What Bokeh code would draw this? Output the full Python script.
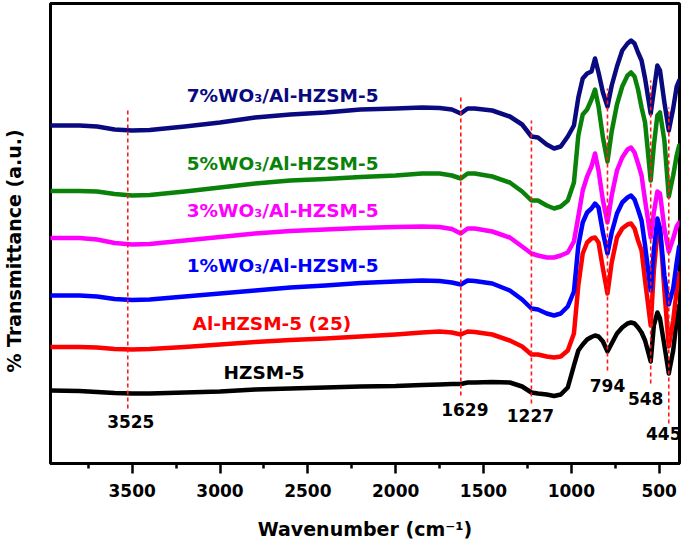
import math
from bokeh.plotting import figure
from bokeh.layouts import row
from bokeh.models import Range1d, FixedTicker, ColumnDataSource
from bokeh.core.properties import value
from bokeh.embed import file_html
from bokeh.resources import INLINE

# Wavenumber grid (cm^-1)
wn = [3965, 3800, 3700, 3600, 3500, 3400, 3200, 3000, 2800, 2600, 2400, 2200, 2000,
      1850, 1750, 1680, 1629, 1590, 1550, 1450, 1350, 1280, 1227, 1190, 1140, 1098,
      1060, 1020, 985, 960, 935, 910, 885, 865, 845, 820, 794, 770, 740, 710, 680,
      660, 640, 620, 600, 580, 548, 530, 510, 495, 470, 445, 420, 400, 386]

# Transmittance (a.u., offset) for each sample
t_7wo3 = [338, 338, 337, 334, 333, 333.5, 337, 341, 346, 349, 351, 354, 355, 356, 355.5,
          354, 350, 355, 355, 353, 347, 339, 327, 326, 319, 315, 317, 327, 338, 366,
          385, 390, 392, 405, 391, 371, 357, 378, 397, 413, 420, 423, 420, 411, 403,
          385, 350, 373, 398, 393, 361, 333, 355, 377, 383]
t_5wo3 = [272.5, 272.5, 272, 269.5, 268, 268.5, 272, 276, 280, 283, 284.5, 286.5, 288,
          290, 290, 288, 285, 290, 290, 287, 281, 272, 263, 263, 258, 255, 257, 263,
          281, 328, 349, 354, 364, 374, 357, 326, 302, 332, 359, 377, 388, 391, 387,
          374, 356, 341, 283, 318, 348, 351, 323, 267, 288, 308, 318]
t_3wo3 = [225.5, 225.5, 224, 220.5, 219, 219.5, 223, 226.5, 230, 232.5, 234, 235.5,
          236.5, 237, 236.5, 234.5, 230, 235, 235, 232, 226, 217, 210, 208, 206, 206,
          208, 211, 222, 247, 273, 287, 297, 310, 293, 263, 241, 268, 293, 306, 314,
          316, 311, 300, 288, 263, 226, 251, 272, 270, 235, 212, 225, 237, 241]
t_1wo3 = [168, 168, 167, 164.5, 163.5, 164, 167, 170, 173, 176, 178, 180.5, 182, 183,
          182.5, 181, 179, 183, 182.5, 180, 173, 164, 155, 154, 150, 148, 150, 157, 172,
          218, 241, 251, 255, 260, 256, 231, 210, 231, 250, 261, 266, 268, 264, 254,
          243, 218, 173, 213, 245, 235, 188, 159, 175, 201, 217]
t_al = [116.5, 116.5, 116, 114.5, 114, 114.5, 116.5, 119, 121.5, 123.5, 125, 127, 129,
        131, 132, 131, 129, 132, 131.5, 129, 123, 117, 109, 109, 107, 106, 107, 113,
        130, 178, 210, 221, 225, 226, 221, 195, 170, 201, 226, 235, 239, 240, 235, 223,
        213, 183, 138, 193, 231, 235, 173, 117, 143, 173, 190]
t_hzsm = [73, 72.5, 71.5, 70.5, 70, 70, 71, 72, 74, 75, 76, 77, 77.5, 78.5, 79, 79.5,
          79.5, 81, 81, 81.5, 81, 77, 71, 70, 69, 67.5, 69, 76, 98, 113, 119, 124, 126.5,
          128, 127, 122, 112, 120, 130, 136, 140, 141, 140, 136, 131, 123, 102, 138, 151,
          145, 118, 90, 113, 143, 158]

series_names = ["7%WO₃/Al-HZSM-5", "5%WO₃/Al-HZSM-5", "3%WO₃/Al-HZSM-5",
                "1%WO₃/Al-HZSM-5", "Al-HZSM-5 (25)", "HZSM-5"]
series_colors = ["#0a0a80", "#0a820a", "#ff00ff", "#0000ff", "#ff0000", "#000000"]

# Peak positions (cm^-1) marked with dashed lines
peaks = [3525, 1629, 1227, 794, 548, 445]
peak_text = ["3525", "1629", "1227", "794", "548", "445"]
peak_line_top = [353, 366, 343, 375, 383, 356]
peak_line_bottom = [55, 68, 60, 93, 80, 40]
peak_label_y = [42, 54, 48, 78, 65, 30]

x_major = [3500, 3000, 2500, 2000, 1500, 1000, 500]
x_minor = [3750, 3250, 2750, 2250, 1750, 1250, 750]

y_title = "% Transmittance (a.u.)"
x_title = "Wavenumber (cm⁻¹)"

FONT = "DejaVu Sans"
W, H, LW = 683, 543, 26

# narrow panel holding the y-axis title
lp = figure(width=LW, height=H, output_backend="svg", toolbar_location=None,
            x_range=Range1d(0, 1), y_range=Range1d(0, 1),
            min_border=0, min_border_left=0, min_border_right=0,
            min_border_top=0, min_border_bottom=0)
lp.axis.visible = False
lp.grid.visible = False
lp.outline_line_color = None
lp.text(x=[0.5], y=[0.462], text=[y_title], angle=math.pi / 2, text_align="center",
        text_baseline="middle", text_font=value(FONT), text_font_style="bold",
        text_font_size="19px", text_color="black")

p = figure(width=W - LW, height=H, output_backend="svg", toolbar_location=None,
           x_range=Range1d(3965, 384), y_range=Range1d(0, 460),
           min_border_left=50 - LW, min_border_right=4, min_border_top=3,
           min_border_bottom=80)
p.xgrid.visible = False
p.ygrid.visible = False
p.yaxis.visible = False
p.outline_line_color = "black"
p.outline_line_width = 3
p.background_fill_color = "white"
p.border_fill_color = "white"

ax = p.xaxis[0]
ax.ticker = FixedTicker(ticks=x_major, minor_ticks=x_minor)
ax.axis_line_width = 3
ax.major_tick_line_width = 2.5
ax.minor_tick_line_width = 2.5
ax.major_tick_out = 10
ax.major_tick_in = 0
ax.minor_tick_out = 5
ax.minor_tick_in = 0
ax.major_label_text_font = FONT
ax.major_label_text_font_style = "bold"
ax.major_label_text_font_size = "17px"
ax.major_label_text_color = "black"
ax.major_label_standoff = 10
ax.axis_label = x_title
ax.axis_label_text_font = FONT
ax.axis_label_text_font_style = "bold"
ax.axis_label_text_font_size = "19px"
ax.axis_label_text_color = "black"
ax.axis_label_standoff = 18

all_series = [t_7wo3, t_hzsm, t_al, t_1wo3, t_3wo3, t_5wo3]
order_colors = [series_colors[0], series_colors[5], series_colors[4], series_colors[3],
                series_colors[2], series_colors[1]]
for ys, c in zip(all_series, order_colors):
    p.line(wn, ys, line_color=c, line_width=4.5, line_join="round", line_cap="round")

# dashed peak markers
p.segment(x0=peaks, y0=peak_line_bottom, x1=peaks, y1=peak_line_top,
          line_color="#ff1a1a", line_width=1.6, line_dash="4 3")

src = ColumnDataSource(dict(x=peaks, y=peak_label_y, t=peak_text,
                            dx=[3, 4, -1, 0, -5, -5]))
p.text(x="x", y="y", text="t", x_offset="dx", source=src, text_align="center",
       text_baseline="alphabetic", text_font=value(FONT), text_font_style="bold",
       text_font_size="17px", text_color="black")

# series labels
label_x = [3190, 3190, 3190, 3190, 3156, 2980]
label_y = [368, 300, 253, 198, 140, 91]
lsrc = ColumnDataSource(dict(x=label_x, y=label_y, t=series_names, c=series_colors))
p.text(x="x", y="y", text="t", text_color="c", source=lsrc, text_align="left",
       text_baseline="alphabetic", text_font=value(FONT), text_font_style="bold",
       text_font_size="18.5px")

layout = row(lp, p, spacing=0)
open("out.html", "w").write(file_html(layout, INLINE))
